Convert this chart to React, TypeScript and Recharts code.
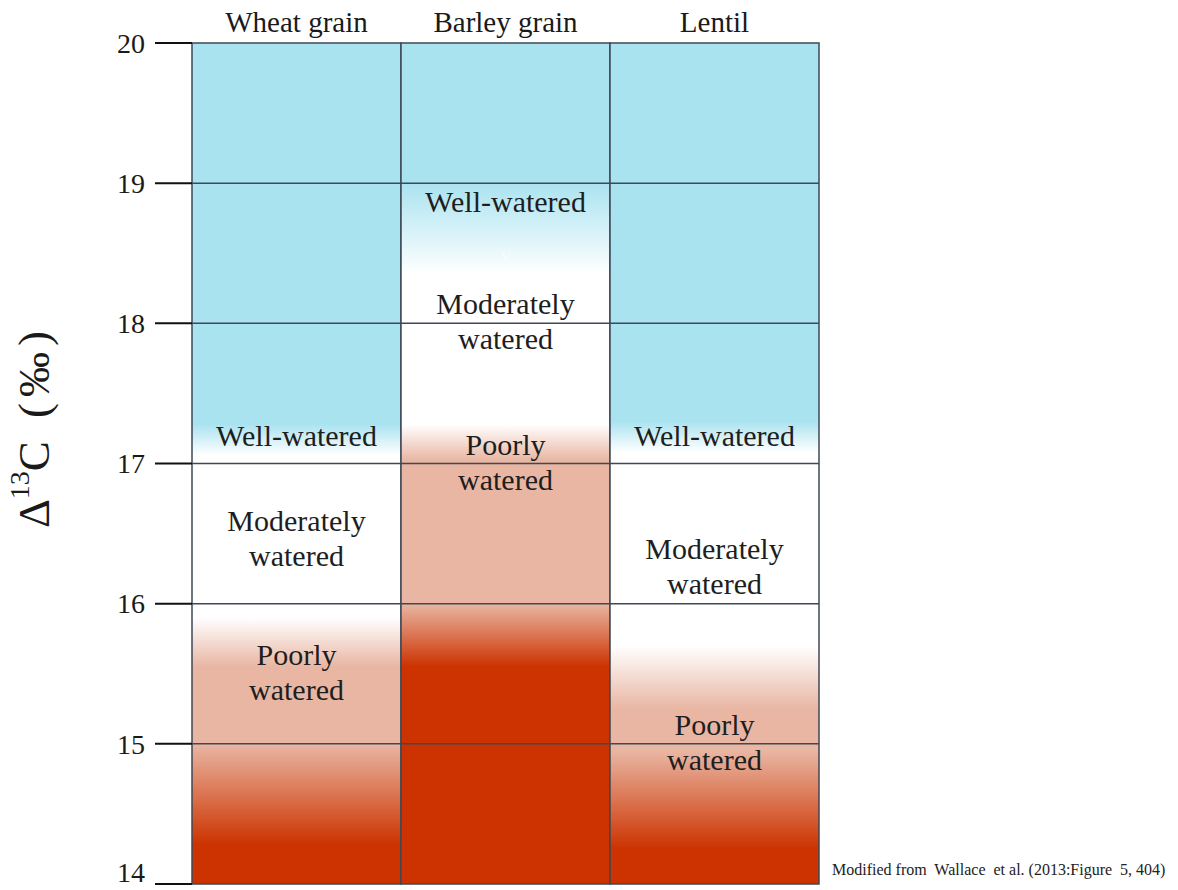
import React from "react";
import {
  BarChart,
  Bar,
  Cell,
  XAxis,
  YAxis,
  ReferenceLine,
  ReferenceDot,
  Label,
} from "recharts";

// columns and y axis
const crops = ["Wheat grain", "Barley grain", "Lentil"];
const yTicks = [14, 15, 16, 17, 18, 19, 20];
const yMin = 14;
const yMax = 20;

// colour transitions for each column, top to bottom: [Δ13C value, zone]
type Zone = "well" | "moderate" | "poor" | "severe";
const wheatStops: [number, Zone][] = [
  [20, "well"],
  [17.28, "well"],
  [17.06, "moderate"],
  [15.9, "moderate"],
  [15.55, "poor"],
  [15.0, "poor"],
  [14.28, "severe"],
  [14, "severe"],
];
const barleyStops: [number, Zone][] = [
  [20, "well"],
  [19.0, "well"],
  [18.35, "moderate"],
  [17.28, "moderate"],
  [17.02, "poor"],
  [16.0, "poor"],
  [15.55, "severe"],
  [14, "severe"],
];
const lentilStops: [number, Zone][] = [
  [20, "well"],
  [17.3, "well"],
  [17.08, "moderate"],
  [15.7, "moderate"],
  [15.25, "poor"],
  [14.95, "poor"],
  [14.25, "severe"],
  [14, "severe"],
];

// text inside the columns: centre value and lines
const wheatLabels = [
  { v: 17.2, lines: ["Well-watered"] },
  { v: 16.47, lines: ["Moderately", "watered"] },
  { v: 15.51, lines: ["Poorly", "watered"] },
];
const barleyLabels = [
  { v: 18.87, lines: ["Well-watered"] },
  { v: 18.49, lines: ["v"], faint: true },
  { v: 18.02, lines: ["Moderately", "watered"] },
  { v: 17.01, lines: ["Poorly", "watered"] },
];
const lentilLabels = [
  { v: 17.2, lines: ["Well-watered"] },
  { v: 16.27, lines: ["Moderately", "watered"] },
  { v: 15.01, lines: ["Poorly", "watered"] },
];

const zoneColor: Record<Zone, string> = {
  well: "#aae3f0",
  moderate: "#ffffff",
  poor: "#e9b6a3",
  severe: "#cc3300",
};

const stopsByCrop = [wheatStops, barleyStops, lentilStops];
const labelsByCrop = [wheatLabels, barleyLabels, lentilLabels];

const chartData = crops.map((crop) => ({ crop, range: [yMin, yMax] }));

const FONT = '"Liberation Serif", "Times New Roman", serif';
const LINE_STROKE = "#3e4856";
const LINE_HEIGHT = 35;

function CropTick(props: any) {
  const { x, y, payload } = props;
  return (
    <text x={x} y={y} textAnchor="middle" fontFamily={FONT} fontSize={29} fill="#1a1a1a">
      {payload.value}
    </text>
  );
}

function ValueTick(props: any) {
  const { x, y, payload } = props;
  // bottom label sits a little above its tick so it stays inside the page
  const lift = payload.value === yMin ? -12 : 0;
  return (
    <text
      x={x}
      y={y + lift}
      dy="0.35em"
      textAnchor="end"
      fontFamily={FONT}
      fontSize={28}
      fill="#1a1a1a"
    >
      {payload.value}
    </text>
  );
}

function YTitle(props: any) {
  const vb = props.viewBox;
  const cx = vb.x + 34;
  const cy = vb.y + vb.height / 2 - 37;
  return (
    <text
      x={cx}
      y={cy}
      transform={`rotate(-90 ${cx} ${cy})`}
      textAnchor="middle"
      dominantBaseline="central"
      fontFamily={FONT}
      fontSize={45}
      fill="#1a1a1a"
    >
      Δ<tspan dy={-15} fontSize={28}>13</tspan>
      <tspan dy={15} letterSpacing={6}>C (‰)</tspan>
    </text>
  );
}

function renderLines(lines: string[], faint?: boolean) {
  return (props: any) => {
    const { cx, cy } = props;
    const first = cy - ((lines.length - 1) / 2) * LINE_HEIGHT;
    return (
      <text
        x={cx}
        textAnchor="middle"
        fontFamily={FONT}
        fontSize={faint ? 20 : 30}
        fill={faint ? "#f6fcfd" : "#1e1e1e"}
      >
        {lines.map((ln, i) => (
          <tspan key={i} x={cx} y={first + i * LINE_HEIGHT} dy="0.35em">
            {ln}
          </tspan>
        ))}
      </text>
    );
  };
}

export default function App() {
  return (
    <div style={{ position: "absolute", left: 0, top: 0, width: 1178, height: 890, background: "#fff" }}>
      <BarChart
        width={1178}
        height={890}
        data={chartData}
        margin={{ top: 13, right: 359, bottom: 6, left: 0 }}
        barCategoryGap={0}
      >
        <defs>
          {stopsByCrop.map((stops, i) => (
            <linearGradient key={i} id={`zone-grad-${i}`} x1="0" y1="0" x2="0" y2="1">
              {stops.map(([v, zone], j) => (
                <stop key={j} offset={(yMax - v) / (yMax - yMin)} stopColor={zoneColor[zone]} />
              ))}
            </linearGradient>
          ))}
        </defs>

        <XAxis
          dataKey="crop"
          type="category"
          orientation="top"
          height={30}
          axisLine={false}
          tickLine={false}
          tickSize={0}
          tickMargin={11}
          tick={<CropTick />}
        />

        <YAxis
          type="number"
          domain={[yMin, yMax]}
          ticks={yTicks}
          interval={0}
          width={192}
          axisLine={false}
          tickSize={37}
          tickMargin={10}
          tickLine={{ stroke: "#111", strokeWidth: 2 }}
          tick={<ValueTick />}
        >
          <Label content={<YTitle />} position="insideLeft" />
        </YAxis>

        <Bar dataKey="range" isAnimationActive={false} stroke={LINE_STROKE} strokeWidth={1.5}>
          {chartData.map((_, i) => (
            <Cell key={i} fill={`url(#zone-grad-${i})`} />
          ))}
        </Bar>

        {yTicks.slice(1, -1).map((t) => (
          <ReferenceLine key={t} y={t} stroke={LINE_STROKE} strokeWidth={1.5} />
        ))}

        {labelsByCrop.map((labels, i) =>
          labels.map((lb, j) => (
            <ReferenceDot
              key={`${i}-${j}`}
              x={crops[i]}
              y={lb.v}
              r={0}
              shape={renderLines(lb.lines, (lb as any).faint)}
            />
          ))
        )}
      </BarChart>
      <div
        style={{
          position: "absolute",
          left: 832,
          top: 861,
          fontFamily: FONT,
          fontSize: 16,
          color: "#222",
          whiteSpace: "pre",
        }}
      >
        {"Modified from  Wallace  et al. (2013:Figure  5, 404)"}
      </div>
    </div>
  );
}
